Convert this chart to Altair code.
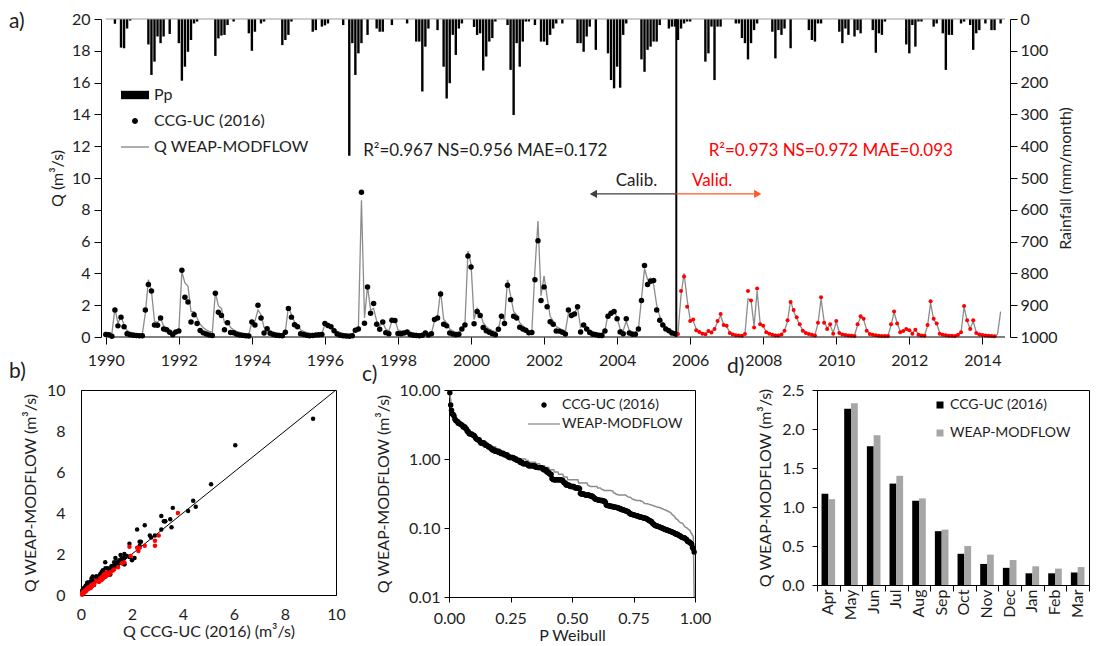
import altair as alt
import numpy as np
import pandas as pd

FONT = "Lato"
INK = "#1e1e1e"
GREY_LINE = "#8c8c8c"
GREY_BAR = "#a6a6a6"
RED = "#ff0000"
ARROW_RED = "#ff5a24"

# Monthly observed discharge, CCG-UC (2016), m3/s, Jan 1990 - May 2014
obs_q = [
    0.16, 0.15, 0.05, 1.7, 0.7, 1.25, 0.65, 0.21, 0.14, 0.105, 0.092, 0.081,          # 1990
    0.072, 1.7, 3.3, 2.9, 0.75, 0.74, 1.2, 0.5, 0.45, 0.3, 0.142, 0.31,               # 1991
    0.38, 4.2, 2.5, 2.2, 0.95, 1.4, 0.85, 0.41, 0.26, 0.185, 0.128, 0.098,            # 1992
    2.75, 1.55, 1.35, 0.46, 0.9, 0.29, 0.27, 0.178, 0.132, 0.102, 0.083, 0.068,       # 1993
    0.95, 0.76, 2.0, 1.2, 0.245, 0.52, 0.235, 0.152, 0.108, 0.088, 0.078, 0.3,        # 1994
    1.8, 1.25, 0.77, 0.65, 0.205, 0.155, 0.112, 0.085, 0.094, 0.125, 0.148, 0.158,    # 1995
    0.85, 0.73, 0.64, 0.4, 0.195, 0.115, 0.079, 0.06, 0.052, 0.077, 0.42, 0.5,        # 1996
    9.1, 0.86, 3.15, 1.5, 2.1, 0.8, 0.49, 0.95, 0.275, 0.2, 1.05, 1.04,               # 1997
    0.215, 0.198, 0.25, 0.32, 0.162, 0.103, 0.09, 0.082, 0.11, 0.255, 0.118, 0.205,   # 1998
    1.1, 1.2, 2.7, 0.8, 0.7, 0.258, 0.183, 0.146, 0.175, 0.51, 0.76, 5.1,             # 1999
    4.4, 0.84, 1.6, 1.35, 0.6, 0.39, 0.305, 0.212, 0.143, 0.49, 1.3, 0.85,            # 2000
    3.25, 2.35, 1.3, 1.2, 0.61, 0.5, 0.42, 0.26, 0.29, 3.6, 6.05, 2.3,                # 2001
    3.15, 1.9, 0.96, 0.8, 0.38, 0.37, 0.295, 0.19, 1.7, 1.35, 1.45, 1.9,              # 2002
    0.31, 0.75, 0.5, 0.285, 0.18, 0.138, 0.101, 0.091, 0.38, 1.3, 1.5, 1.6,           # 2003
    1.15, 0.31, 0.2, 1.15, 0.25, 0.176, 0.168, 0.5, 2.3, 4.5, 3.3, 3.5,               # 2004
    3.55, 1.7, 1.05, 0.75, 0.5, 0.4, 0.25, 0.205, 0.19, 2.9, 3.8, 1.9,                # 2005
    1.0, 1.1, 0.42, 0.31, 0.21, 0.172, 0.38, 0.29, 0.5, 1.0, 1.45, 0.75,              # 2006
    0.7, 0.245, 0.151, 0.104, 0.089, 0.071, 0.195, 2.9, 2.3, 0.6, 3.05, 0.8,          # 2007
    0.7, 0.3, 0.198, 0.139, 0.097, 0.087, 0.155, 0.4, 1.05, 2.2, 1.7, 1.25,           # 2008
    0.8, 0.4, 0.252, 0.182, 0.144, 0.099, 0.9, 2.5, 0.9, 0.5, 0.8, 0.207,             # 2009
    1.0, 0.248, 0.157, 0.127, 0.093, 0.072, 0.061, 0.8, 1.3, 1.15, 0.4, 0.186,        # 2010
    0.136, 0.106, 0.074, 0.064, 0.058, 0.069, 0.8, 1.6, 0.85, 0.3, 0.38, 0.5,         # 2011
    0.42, 0.202, 0.45, 0.141, 0.096, 0.073, 0.75, 2.25, 1.15, 0.85, 0.211, 0.146,     # 2012
    0.108, 0.086, 0.075, 0.063, 0.134, 0.3, 1.95, 1.05, 0.5, 1.05, 0.255, 0.153,      # 2013
    0.124, 0.094, 0.081, 0.063, 0.045,                                                # 2014
]

# Monthly simulated discharge, WEAP-MODFLOW, m3/s, Jan 1990 - Jul 2014
model_q = [
    0.3, 0.25, 0.22, 1.8, 0.85, 1.3, 0.75, 0.4, 0.31, 0.26, 0.21, 0.185,              # 1990
    0.172, 1.5, 3.6, 2.9, 1.0, 0.9, 1.2, 0.7, 0.55, 0.41, 0.32, 0.35,                 # 1991
    0.4, 4.1, 3.4, 3.2, 1.6, 1.6, 1.2, 0.8, 0.6, 0.45, 0.36, 0.3,                     # 1992
    2.8, 1.95, 1.8, 0.9, 1.0, 0.6, 0.45, 0.35, 0.29, 0.245, 0.215, 0.195,             # 1993
    0.9, 1.0, 1.7, 1.4, 0.6, 0.55, 0.4, 0.3, 0.265, 0.225, 0.2, 0.35,                 # 1994
    1.9, 1.4, 0.95, 0.8, 0.45, 0.35, 0.28, 0.24, 0.222, 0.218, 0.212, 0.205,          # 1995
    0.8, 0.85, 0.7, 0.5, 0.35, 0.285, 0.235, 0.19, 0.178, 0.188, 0.45, 0.6,           # 1996
    8.6, 1.2, 3.2, 1.7, 1.8, 1.0, 0.7, 0.9, 0.5, 0.38, 1.0, 1.1,                      # 1997
    0.45, 0.38, 0.35, 0.37, 0.305, 0.255, 0.228, 0.202, 0.196, 0.28, 0.224, 0.25,     # 1998
    1.0, 1.3, 2.9, 1.1, 0.9, 0.5, 0.38, 0.3, 0.275, 0.5, 0.8, 5.4,                    # 1999
    4.6, 1.1, 1.8, 1.5, 0.9, 0.65, 0.5, 0.4, 0.32, 0.5, 1.4, 1.0,                     # 2000
    3.6, 2.6, 1.6, 1.4, 0.9, 0.7, 0.55, 0.42, 0.4, 4.25, 7.3, 2.6,                    # 2001
    3.85, 2.5, 1.3, 1.0, 0.65, 0.55, 0.45, 0.35, 1.5, 1.5, 1.5, 1.85,                 # 2002
    0.6, 0.8, 0.6, 0.45, 0.345, 0.298, 0.252, 0.226, 0.4, 1.4, 1.6, 1.7,              # 2003
    1.2, 0.5, 0.4, 1.0, 0.41, 0.325, 0.282, 0.5, 2.4, 4.3, 3.6, 3.7,                  # 2004
    3.3, 2.0, 1.3, 0.9, 0.65, 0.5, 0.38, 0.3, 0.25, 2.65, 4.0, 2.35,                  # 2005
    1.1, 1.0, 0.5, 0.355, 0.255, 0.205, 0.345, 0.36, 0.5, 0.95, 1.35, 0.8,            # 2006
    0.65, 0.305, 0.21, 0.155, 0.123, 0.104, 0.19, 2.4, 2.3, 0.7, 2.9, 0.85,           # 2007
    0.65, 0.35, 0.245, 0.182, 0.143, 0.117, 0.16, 0.4, 1.0, 2.3, 1.6, 1.2,            # 2008
    0.75, 0.45, 0.3, 0.218, 0.166, 0.132, 0.85, 2.4, 1.0, 0.55, 0.75, 0.26,           # 2009
    0.95, 0.3, 0.198, 0.152, 0.121, 0.102, 0.092, 0.75, 1.25, 1.1, 0.45, 0.224,       # 2010
    0.168, 0.134, 0.107, 0.094, 0.083, 0.078, 0.75, 1.55, 0.9, 0.35, 0.4, 0.5,        # 2011
    0.45, 0.25, 0.45, 0.178, 0.128, 0.098, 0.7, 2.15, 1.1, 0.85, 0.25, 0.172,         # 2012
    0.136, 0.113, 0.096, 0.085, 0.118, 0.3, 1.9, 1.0, 0.5, 1.0, 0.3, 0.182,           # 2013
    0.148, 0.119, 0.101, 0.076, 0.009, 0.2, 1.6,                                      # 2014
]

# Monthly rainfall Pp, mm/month, Jan 1990 - Jul 2014
rain_pp = [
    0, 0, 0, 15, 0, 90, 92, 30, 5, 0, 0, 0,              # 1990
    0, 0, 80, 176, 134, 55, 76, 55, 0, 47, 0, 0,         # 1991
    76, 194, 150, 103, 66, 14, 8, 0, 0, 0, 0, 0,         # 1992
    116, 61, 52, 50, 19, 0, 8, 0, 0, 0, 0, 45,           # 1993
    100, 40, 0, 14, 8, 0, 0, 0, 0, 0, 82, 66,            # 1994
    50, 8, 0, 0, 0, 0, 0, 0, 40, 35, 0, 24,              # 1995
    20, 14, 0, 0, 0, 0, 19, 0, 430, 76, 176, 108,        # 1996
    76, 0, 50, 0, 0, 30, 40, 40, 0, 0, 19, 0,            # 1997
    0, 0, 0, 14, 0, 0, 71, 71, 228, 87, 30, 0,           # 1998
    0, 35, 0, 150, 250, 202, 50, 113, 30, 14, 0, 0,      # 1999
    0, 25, 50, 45, 162, 118, 71, 60, 8, 0, 0, 0,         # 2000
    19, 160, 302, 76, 150, 71, 8, 8, 0, 19, 0, 71,       # 2001
    71, 82, 50, 30, 14, 0, 14, 0, 0, 0, 0, 76,           # 2002
    76, 103, 55, 24, 0, 97, 0, 0, 0, 108, 192, 218,      # 2003
    150, 216, 50, 14, 0, 0, 0, 0, 127, 166, 97, 87,      # 2004
    71, 71, 19, 0, 0, 30, 24, 24, 66, 30, 14, 8,         # 2005
    8, 0, 0, 0, 0, 134, 108, 24, 192, 24, 24, 0,         # 2006
    0, 0, 0, 14, 14, 60, 76, 127, 76, 35, 14, 0,         # 2007
    0, 0, 0, 40, 124, 35, 50, 30, 0, 92, 0, 0,           # 2008
    0, 0, 0, 35, 66, 71, 14, 14, 0, 0, 0, 0,             # 2009
    0, 40, 76, 30, 50, 0, 55, 35, 45, 0, 0, 0,           # 2010
    35, 106, 45, 50, 8, 0, 0, 0, 0, 0, 0, 80,            # 2011
    108, 19, 87, 8, 8, 0, 0, 0, 24, 14, 0, 45,           # 2012
    160, 50, 50, 0, 0, 14, 8, 0, 19, 97, 45, 35,         # 2013
    0, 14, 0, 35, 35, 0, 14,                             # 2014
]

first_year = 1990
split_month = 188          # first month of the validation period
split_year = 2005.62       # calibration / validation boundary
x_end = 2014.62

# Panel d: mean monthly discharge (hydrological year Apr-Mar)
months_d = ["Apr", "May", "Jun", "Jul", "Aug", "Sep", "Oct", "Nov", "Dec", "Jan", "Feb", "Mar"]
obs_monthly = [1.17, 2.26, 1.78, 1.30, 1.08, 0.69, 0.40, 0.27, 0.22, 0.15, 0.15, 0.16]
model_monthly = [1.10, 2.33, 1.92, 1.40, 1.11, 0.71, 0.50, 0.39, 0.32, 0.24, 0.21, 0.23]

cal_stats = "R²=0.967 NS=0.956 MAE=0.172"
val_stats = "R²=0.973 NS=0.972 MAE=0.093"
top_legend_labels = ["Pp", "CCG-UC (2016)", "Q WEAP-MODFLOW"]
fdc_legend_labels = ["CCG-UC (2016)", "WEAP-MODFLOW"]
d_series = ["CCG-UC (2016)", "WEAP-MODFLOW"]
panel_letters = ["a)", "b)", "c)", "d)"]

# ---------------------------------------------------------------- layout sizes
TOP_W, TOP_H = 909, 318        # plot area of panel a
TOP_SHIFT = 20                 # panel a starts this far right of panel b
D_W = 272

# ---------------------------------------------------------------- data tables
n = len(model_q)
df = pd.DataFrame({"m": np.arange(n)})
df["t"] = first_year + df["m"] / 12.0
df["model"] = model_q
df["rain"] = rain_pp
df["obs"] = obs_q + [np.nan] * (n - len(obs_q))

cal_filter = f"datum.m < {split_month} && isValid(datum.obs)"
val_filter = f"datum.m >= {split_month} && isValid(datum.obs)"


def panel_label(letter, dx, dy):
    return alt.Chart(pd.DataFrame({"label": [letter]})).mark_text(
        align="left", baseline="middle", fontSize=21, color=INK, font=FONT
    ).encode(x=alt.value(dx), y=alt.value(dy), text="label:N")


# ---------------------------------------------------------------- panel a
# the scale range is widened on the left so that the 1990 edge sits TOP_SHIFT px in
x_start = first_year - TOP_SHIFT * (x_end - first_year) / TOP_W
x_scale = alt.Scale(domain=[x_start, x_end], nice=False, zero=False)
x_axis = alt.Axis(values=list(range(1990, 2015, 2)), format="d", title=None, domain=False,
                  labelFontSize=16, tickSize=7, labelPadding=8)
X = alt.X("t:Q", scale=x_scale, axis=x_axis)
q_scale = alt.Scale(domain=[0, 20], nice=False)
q_axis = alt.Axis(values=list(range(0, 21, 2)), title="Q (m³/s)", labelFontSize=16, offset=-TOP_SHIFT,
                  titleFontSize=16, tickSize=7, labelPadding=4, titlePadding=6)


def QY(field):
    return alt.Y(field, type="quantitative", scale=q_scale, axis=q_axis)


base = alt.Chart(df)
model_line = base.mark_line(color=GREY_LINE, strokeWidth=1.3).encode(x=X, y=QY("model"))
obs_cal = base.transform_filter(cal_filter).mark_circle(color="black", size=30, opacity=1).encode(x=X, y=QY("obs"))
obs_val = base.transform_filter(val_filter).mark_circle(color=RED, size=16, opacity=1).encode(x=X, y=QY("obs"))

frame_df = pd.DataFrame({"t": [first_year, first_year], "t2": [x_end, x_end], "q": [0, 20],
                         "edge": ["bottom", "top"]})
frame_bottom = alt.Chart(frame_df).transform_filter("datum.edge == 'bottom'").mark_rule(
    color="black", strokeWidth=1).encode(x=X, x2="t2:Q", y=QY("q"))
frame_top = alt.Chart(frame_df).transform_filter("datum.edge == 'top'").mark_rule(
    color="#9a9a9a", strokeWidth=1).encode(x=X, x2="t2:Q", y=QY("q"))

split_df = pd.DataFrame({"t": [split_year], "q0": [0], "q1": [20]})
split_rule = alt.Chart(split_df).mark_rule(color="black", strokeWidth=2).encode(x=X, y=QY("q0"), y2="q1:Q")

cal_arrow_df = pd.DataFrame({"t": [split_year], "t2": [2003.35], "q": [9.0]})
val_arrow_df = pd.DataFrame({"t": [split_year], "t2": [2007.85], "q": [9.0]})
X2 = alt.X("t2:Q", scale=x_scale, axis=x_axis)
cal_arrow = alt.Chart(cal_arrow_df).mark_rule(color="#404040", strokeWidth=1.3).encode(x=X, x2="t2:Q", y=QY("q"))
cal_head = alt.Chart(cal_arrow_df).mark_point(shape="triangle-left", filled=True, color="#404040",
                                              size=70, opacity=1).encode(x=X2, y=QY("q"))
val_arrow = alt.Chart(val_arrow_df).mark_rule(color=ARROW_RED, strokeWidth=1.3).encode(x=X, x2="t2:Q", y=QY("q"))
val_head = alt.Chart(val_arrow_df).mark_point(shape="triangle-right", filled=True, color=ARROW_RED,
                                              size=70, opacity=1).encode(x=X2, y=QY("q"))

cal_txt_df = pd.DataFrame({"t": [2000.39, 2004.53], "q": [11.7, 9.81], "label": [cal_stats, "Calib."]})
val_txt_df = pd.DataFrame({"t": [2009.85, 2006.6], "q": [11.7, 9.81], "label": [val_stats, "Valid."]})
cal_txt = alt.Chart(cal_txt_df).mark_text(fontSize=17, color=INK, font=FONT).encode(x=X, y=QY("q"), text="label:N")
val_txt = alt.Chart(val_txt_df).mark_text(fontSize=17, color=RED, font=FONT).encode(x=X, y=QY("q"), text="label:N")

rect_path = "M-1.4,-0.42H1.4V0.42H-1.4Z"
dot_path = "M-0.3,0A0.3,0.3,0,1,0,0.3,0A0.3,0.3,0,1,0,-0.3,0Z"
line_path = "M-1.4,-0.07H1.4V0.07H-1.4Z"
top_leg = alt.Legend(orient="none", legendX=24 + TOP_SHIFT, legendY=66, title=None, symbolSize=400,
                     labelFontSize=16, labelOffset=9, rowPadding=8, symbolOpacity=1,
                     symbolStrokeWidth=0, labelFont=FONT, labelColor=INK)
top_leg_df = pd.DataFrame({"s": top_legend_labels})
top_leg_layer = alt.Chart(top_leg_df).mark_point(filled=True, opacity=0).encode(
    shape=alt.Shape("s:N", scale=alt.Scale(domain=top_legend_labels, range=[rect_path, dot_path, line_path]),
                    legend=top_leg),
    color=alt.Color("s:N", scale=alt.Scale(domain=top_legend_labels, range=["black", "black", GREY_LINE]),
                    legend=top_leg),
)

rain_axis = alt.Axis(orient="right", values=list(range(0, 1001, 100)), format="d", title="Rainfall (mm/month)",
                     titleAngle=270, labelFontSize=16, titleFontSize=16, tickSize=7, labelPadding=3,
                     titlePadding=16)
rain_bars = base.mark_bar(color="black", size=2.4).encode(
    x=X, y=alt.Y("rain:Q", scale=alt.Scale(domain=[0, 1000], reverse=True, nice=False), axis=rain_axis))

q_layers = alt.layer(frame_top, model_line, obs_cal, obs_val, split_rule, cal_arrow, cal_head, val_arrow,
                     val_head, cal_txt, val_txt, frame_bottom, top_leg_layer,
                     panel_label(panel_letters[0], -72, 3))
top = alt.layer(rain_bars, q_layers).resolve_scale(y="independent").properties(
    width=TOP_W + TOP_SHIFT, height=TOP_H,
    view=alt.ViewBackground(stroke="transparent"),
)

# ---------------------------------------------------------------- panel b
b_scale = alt.Scale(domain=[0, 10], nice=False)
b_xaxis = alt.Axis(values=list(range(0, 11, 2)), title="Q CCG-UC (2016)  (m³/s)", ticks=False,
                   labelPadding=11, titlePadding=1, labelFontSize=16, titleFontSize=16)
b_yaxis = alt.Axis(values=list(range(0, 11, 2)), title="Q WEAP-MODFLOW  (m³/s)", ticks=False,
                   labelPadding=16, titlePadding=8, labelFontSize=16, titleFontSize=16)
one_df = pd.DataFrame({"v": [0, 10]})
b_line = alt.Chart(one_df).mark_line(color="black", strokeWidth=1).encode(
    x=alt.X("v:Q", scale=b_scale, axis=b_xaxis), y=alt.Y("v:Q", scale=b_scale, axis=b_yaxis))
b_cal = base.transform_filter(cal_filter).mark_circle(color="black", size=20, opacity=1).encode(
    x=alt.X("obs:Q", scale=b_scale, axis=b_xaxis), y=alt.Y("model:Q", scale=b_scale, axis=b_yaxis))
b_val = base.transform_filter(val_filter).mark_circle(color=RED, size=20, opacity=1).encode(
    x=alt.X("obs:Q", scale=b_scale, axis=b_xaxis), y=alt.Y("model:Q", scale=b_scale, axis=b_yaxis))
panel_b = alt.layer(b_line, b_cal, b_val, panel_label(panel_letters[1], -72, -18)).properties(
    width=255, height=205)

# ---------------------------------------------------------------- panel c
obs_sorted = sorted(obs_q, reverse=True)
mod_sorted = sorted(model_q, reverse=True)
fdc_obs = pd.DataFrame({"p": [(i + 1) / (len(obs_sorted) + 1) for i in range(len(obs_sorted))], "q": obs_sorted})
fdc_mod = pd.DataFrame({"p": [(i + 1) / (len(mod_sorted) + 1) for i in range(len(mod_sorted))], "q": mod_sorted})
c_xscale = alt.Scale(domain=[0, 1], nice=False)
c_yscale = alt.Scale(type="log", domain=[0.01, 10], clamp=True, nice=False)
c_xaxis = alt.Axis(values=[0, 0.25, 0.5, 0.75, 1.0], format=".2f", title="P Weibull", tickSize=5,
                   labelPadding=8, titlePadding=1, labelFontSize=16, titleFontSize=16)
c_yaxis = alt.Axis(values=[0.01, 0.1, 1, 10], format=".2f", title="Q WEAP-MODFLOW  (m³/s)", tickSize=5,
                   labelPadding=4, titlePadding=8, labelFontSize=16, titleFontSize=16)
c_line = alt.Chart(fdc_mod).mark_line(color=GREY_LINE, strokeWidth=1.5).encode(
    x=alt.X("p:Q", scale=c_xscale, axis=c_xaxis), y=alt.Y("q:Q", scale=c_yscale, axis=c_yaxis))
c_pts = alt.Chart(fdc_obs).mark_circle(color="black", size=30, opacity=1).encode(
    x=alt.X("p:Q", scale=c_xscale, axis=c_xaxis), y=alt.Y("q:Q", scale=c_yscale, axis=c_yaxis))
c_dot = "M-0.34,0A0.34,0.34,0,1,0,0.34,0A0.34,0.34,0,1,0,-0.34,0Z"
c_ln = "M-2,-0.08H2V0.08H-2Z"
c_leg = alt.Legend(orient="none", legendX=87, legendY=7, title=None, symbolSize=256, labelFontSize=14,
                   labelOffset=10, rowPadding=4, symbolOpacity=1, symbolStrokeWidth=0,
                   labelFont=FONT, labelColor=INK)
c_leg_layer = alt.Chart(pd.DataFrame({"s": fdc_legend_labels})).mark_point(filled=True, opacity=0).encode(
    shape=alt.Shape("s:N", scale=alt.Scale(domain=fdc_legend_labels, range=[c_dot, c_ln]), legend=c_leg),
    color=alt.Color("s:N", scale=alt.Scale(domain=fdc_legend_labels, range=["black", GREY_LINE]), legend=c_leg),
)
panel_c = alt.layer(c_line, c_pts, c_leg_layer, panel_label(panel_letters[2], -87, -15)).properties(
    width=246, height=207)

# ---------------------------------------------------------------- panel d
d_df = pd.DataFrame({
    "month": months_d * 2,
    "series": [d_series[0]] * 12 + [d_series[1]] * 12,
    "q": obs_monthly + model_monthly,
})
# category-boundary ticks (between months), drawn by a second, label-less bottom axis
d_edges = alt.Chart(pd.DataFrame({"k": [0]})).mark_point(opacity=0).encode(
    x=alt.X("k:Q", scale=alt.Scale(domain=[0, len(months_d)], nice=False, zero=False),
            axis=alt.Axis(orient="bottom", values=list(range(len(months_d) + 1)), labels=False, tickSize=6,
                          title=None, domain=True)))
d_bars = alt.Chart(d_df).mark_bar().encode(
    x=alt.X("month:N", sort=months_d, scale=alt.Scale(paddingInner=0.4, paddingOuter=0.2),
            axis=alt.Axis(orient="bottom", title=None, labelAngle=270, labelFontSize=16, ticks=False,
                          domain=False, labelPadding=4, labelAlign="right", labelBaseline="middle")),
    xOffset=alt.XOffset("series:N", sort=d_series, scale=alt.Scale(paddingInner=0, paddingOuter=0)),
    y=alt.Y("q:Q", scale=alt.Scale(domain=[0, 2.5], nice=False),
            axis=alt.Axis(values=[0, 0.5, 1.0, 1.5, 2.0, 2.5], format=".1f", title="Q WEAP-MODFLOW  (m³/s)",
                          tickSize=5, labelPadding=8, titlePadding=8, labelFontSize=16, titleFontSize=16)),
    color=alt.Color("series:N", scale=alt.Scale(domain=d_series, range=["black", GREY_BAR]),
                    legend=alt.Legend(orient="none", legendX=116, legendY=8, title=None, symbolType="square",
                                      symbolSize=49, labelFontSize=14, labelOffset=3, rowPadding=14,
                                      symbolStrokeWidth=0, labelFont=FONT, labelColor=INK)),
)
panel_d = alt.layer(d_edges, d_bars, panel_label(panel_letters[3], -90, -23)).resolve_scale(
    x="independent").properties(width=D_W, height=195)

bc = alt.hconcat(panel_b, panel_c, spacing=15).resolve_scale(color="independent", shape="independent")
bottom = alt.hconcat(bc, panel_d, spacing=14).resolve_scale(color="independent", shape="independent")

chart = alt.ConcatChart(
    concat=[top, bottom], columns=1, align="none", spacing=-14
).resolve_scale(
    color="independent", shape="independent"
).properties(
    padding={"left": 0, "top": 2, "right": 0, "bottom": 0}
).configure(font=FONT).configure_axis(
    domainColor="black", tickColor="black", labelColor=INK, titleColor=INK, titleFontWeight="normal",
    grid=False, labelFont=FONT, titleFont=FONT, labelFlush=False
).configure_view(stroke="black", strokeWidth=1).configure_title(
    font=FONT, color=INK, fontWeight="normal"
).configure_legend(labelFont=FONT, labelColor=INK)

chart.save("out.html", embed_options={"renderer": "svg", "actions": False})
